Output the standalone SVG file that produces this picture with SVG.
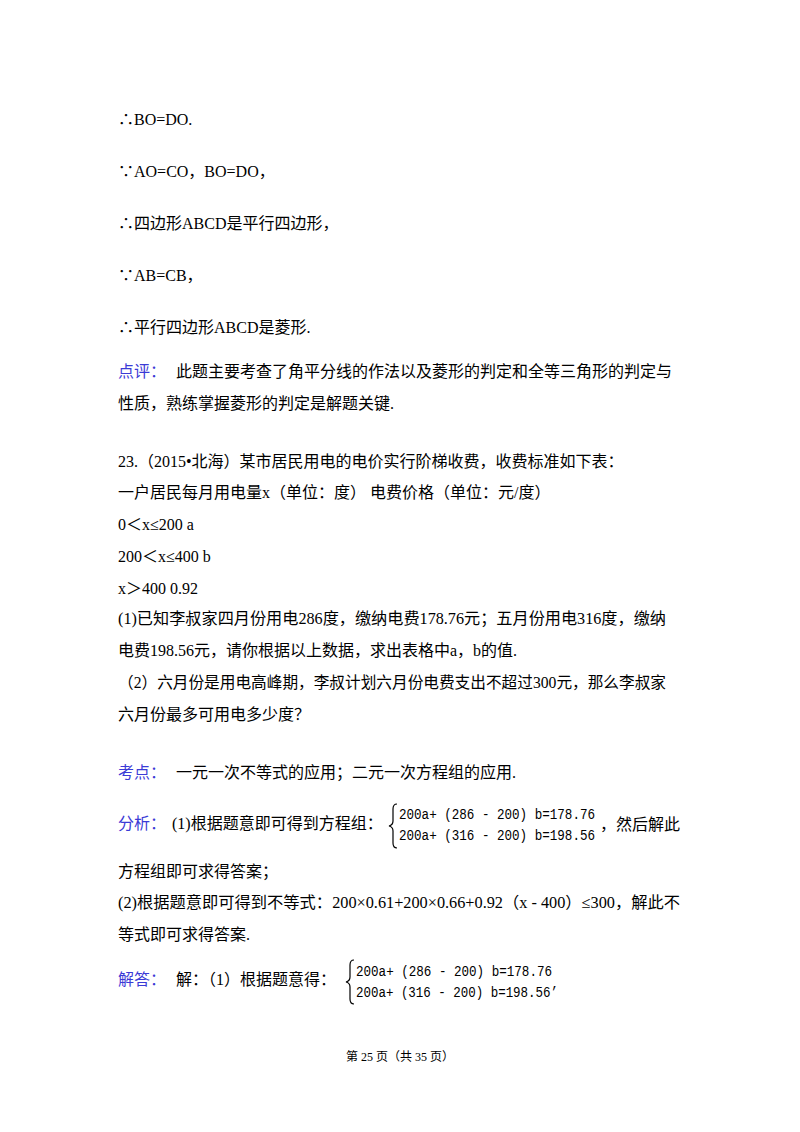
<svg xmlns="http://www.w3.org/2000/svg" width="800" height="1132" viewBox="0 0 800 1132">
<style>
text{font-family:"Liberation Serif","Noto Sans CJK SC",serif;font-size:16px;fill:#000}
.b{fill:#3b3bd6}
.m{font-family:"Liberation Mono","Noto Sans CJK SC",monospace;font-size:14px}
.f{font-size:12px}
</style>
<rect width="800" height="1132" fill="#fff"/>
<g id="text">
<text x="118" y="125">∴BO=DO.</text>
<text x="118" y="177">∵AO=CO，BO=DO，</text>
<text x="118" y="229">∴四边形ABCD是平行四边形，</text>
<text x="118" y="281">∵AB=CB，</text>
<text x="118" y="333">∴平行四边形ABCD是菱形.</text>
<text x="118" y="377"><tspan class="b">点评：</tspan><tspan x="176">此题主要考查了角平分线的作法以及菱形的判定和全等三角形的判定与</tspan></text>
<text x="118" y="409">性质，熟练掌握菱形的判定是解题关键.</text>
<text x="118" y="467">23.（2015•北海）某市居民用电的电价实行阶梯收费，收费标准如下表：</text>
<text x="118" y="498">一户居民每月用电量x（单位：度） 电费价格（单位：元/度）</text>
<text x="118" y="530">0＜x≤200 a</text>
<text x="118" y="562">200＜x≤400 b</text>
<text x="118" y="594">x＞400 0.92</text>
<text x="118" y="624" textLength="548" lengthAdjust="spacingAndGlyphs">(1)已知李叔家四月份用电286度，缴纳电费178.76元；五月份用电316度，缴纳</text>
<text x="118" y="656">电费198.56元，请你根据以上数据，求出表格中a，b的值.</text>
<text x="118" y="688" textLength="548" lengthAdjust="spacingAndGlyphs">（2）六月份是用电高峰期，李叔计划六月份电费支出不超过300元，那么李叔家</text>
<text x="118" y="720">六月份最多可用电多少度？</text>
<text x="118" y="778"><tspan class="b">考点：</tspan><tspan x="176">一元一次不等式的应用；二元一次方程组的应用.</tspan></text>
<text x="118" y="829"><tspan class="b">分析：</tspan><tspan x="172">(1)根据题意即可得到方程组：</tspan></text>
<path d="M397,804 q-4,0 -4,5 v12 q0,4 -4,5 q4,1 4,5 v12 q0,5 4,5" fill="none" stroke="#000" stroke-width="1.2"/>
<text class="m" x="399" y="819" textLength="196" lengthAdjust="spacingAndGlyphs">200a+ (286 - 200) b=178.76</text>
<text class="m" x="399" y="840" textLength="196" lengthAdjust="spacingAndGlyphs">200a+ (316 - 200) b=198.56</text>
<text x="600" y="830">，然后解此</text>
<text x="118" y="877">方程组即可求得答案；</text>
<text x="118" y="908" textLength="562" lengthAdjust="spacingAndGlyphs">(2)根据题意即可得到不等式：200×0.61+200×0.66+0.92（x - 400）≤300，解此不</text>
<text x="118" y="940">等式即可求得答案.</text>
<text x="118" y="985"><tspan class="b">解答：</tspan><tspan x="176">解：（1）根据题意得：</tspan></text>
<path d="M354,960 q-4,0 -4,5 v12 q0,4 -4,5 q4,1 4,5 v12 q0,5 4,5" fill="none" stroke="#000" stroke-width="1.2"/>
<text class="m" x="356" y="976" textLength="196" lengthAdjust="spacingAndGlyphs">200a+ (286 - 200) b=178.76</text>
<text class="m" x="356" y="997" textLength="202" lengthAdjust="spacingAndGlyphs">200a+ (316 - 200) b=198.56’</text>
<text class="f" x="400" y="1061" text-anchor="middle">第 25 页（共 35 页）</text>
</g>
</svg>
